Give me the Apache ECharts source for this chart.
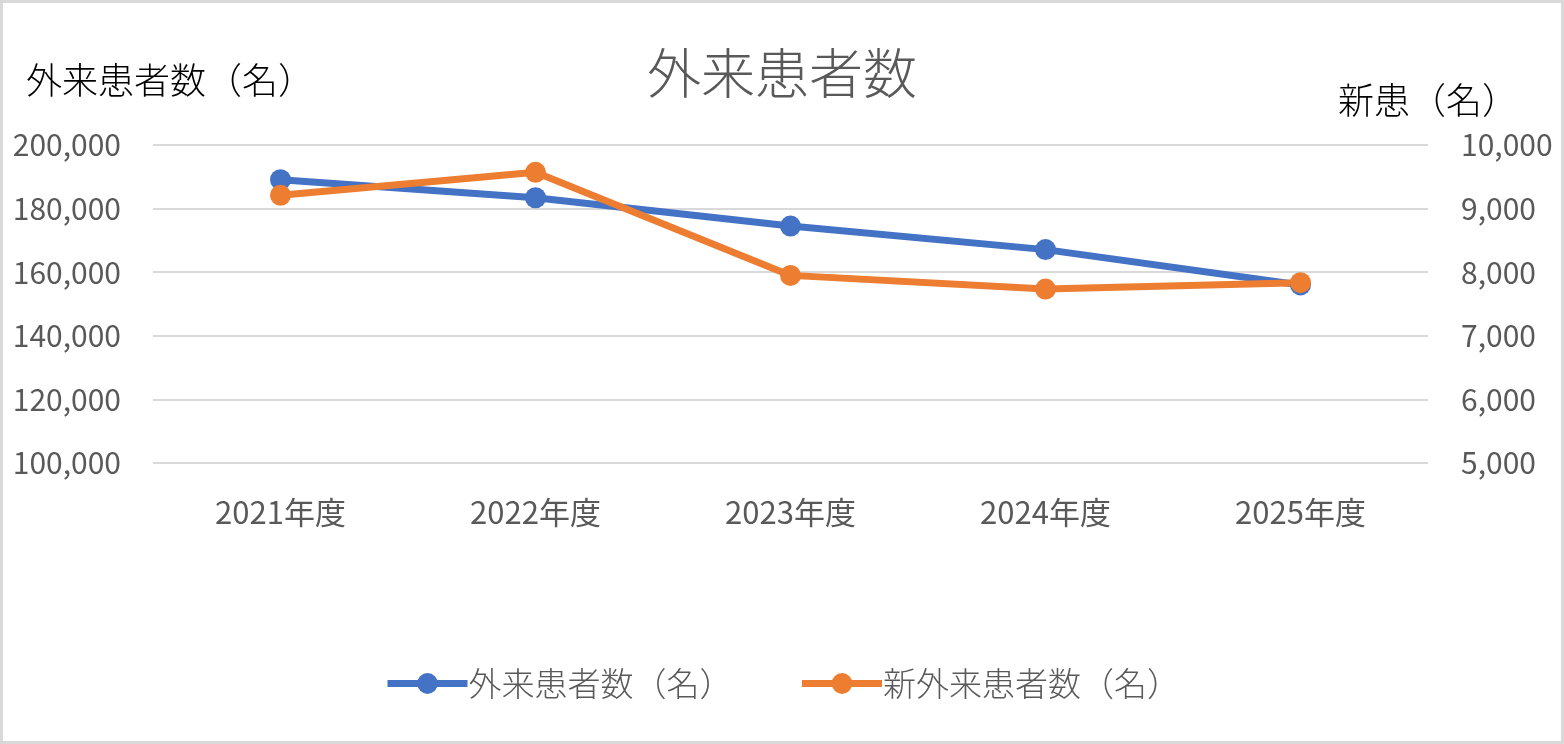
<!DOCTYPE html>
<html>
<head>
<meta charset="utf-8">
<script src="https://cdn.jsdelivr.net/npm/echarts@6/dist/echarts.min.js"></script>
<style>
  html, body { margin: 0; padding: 0; background: #fff; }
  #chart { width: 1564px; height: 744px; box-sizing: border-box; border: 3px solid #d9d9d9; }
</style>
</head>
<body>
<div id="chart"></div>
<script>
// 年度
var years = ['2021年度', '2022年度', '2023年度', '2024年度', '2025年度'];
// 外来患者数（左軸）
var outpatients = [189100, 183400, 174500, 167100, 156000];
// 新外来患者数（右軸）
var newOutpatients = [9210, 9570, 7950, 7735, 7835];

var FONT = '"Noto Sans CJK JP", "Noto Sans", sans-serif';
var GRAY = '#595959';

var chart = echarts.init(document.getElementById('chart'));

var option = {
  textStyle: { fontFamily: FONT },
  title: [
    {
      text: '外来患者数',
      left: 'center',
      top: 38,
      textStyle: { fontFamily: FONT, fontSize: 54, fontWeight: 300, color: GRAY }
    },
    {
      text: '外来患者数（名）',
      left: 18,
      top: 54,
      textStyle: { fontFamily: FONT, fontSize: 36, fontWeight: 300, color: '#000' }
    },
    {
      text: '新患（名）',
      right: 38,
      top: 74,
      textStyle: { fontFamily: FONT, fontSize: 36, fontWeight: 300, color: '#000' }
    }
  ],
  legend: {
    bottom: 36,
    left: 'center',
    itemWidth: 80,
    itemHeight: 26,
    itemGap: 66,
    lineStyle: { width: 7 },
    textStyle: { fontFamily: FONT, fontSize: 33, fontWeight: 300, color: GRAY, padding: [0, 0, 0, -4] },
    data: ['外来患者数（名）', '新外来患者数（名）']
  },
  grid: {
    left: 150,
    right: 133,
    top: 142,
    bottom: 278,
    containLabel: false
  },
  xAxis: {
    type: 'category',
    data: years,
    axisLine: { show: false },
    axisTick: { show: false },
    axisLabel: { fontFamily: FONT, fontSize: 31, color: GRAY, margin: 34 }
  },
  yAxis: [
    {
      type: 'value',
      min: 100000,
      max: 200000,
      interval: 20000,
      axisLine: { show: false },
      axisTick: { show: false },
      splitLine: { lineStyle: { color: '#d9d9d9', width: 2 } },
      axisLabel: {
        fontFamily: FONT, fontSize: 30, color: GRAY, margin: 32,
        formatter: function (v) { return v.toLocaleString('en-US'); }
      }
    },
    {
      type: 'value',
      min: 5000,
      max: 10000,
      interval: 1000,
      axisLine: { show: false },
      axisTick: { show: false },
      splitLine: { show: false },
      axisLabel: {
        fontFamily: FONT, fontSize: 30, color: GRAY, margin: 33,
        formatter: function (v) { return v.toLocaleString('en-US'); }
      }
    }
  ],
  series: [
    {
      name: '外来患者数（名）',
      type: 'line',
      yAxisIndex: 0,
      data: outpatients,
      symbol: 'circle',
      symbolSize: 21,
      itemStyle: { color: '#4472C4' },
      lineStyle: { color: '#4472C4', width: 7 }
    },
    {
      name: '新外来患者数（名）',
      type: 'line',
      yAxisIndex: 1,
      data: newOutpatients,
      symbol: 'circle',
      symbolSize: 21,
      itemStyle: { color: '#ED7D31' },
      lineStyle: { color: '#ED7D31', width: 7 }
    }
  ]
};

chart.setOption(option);
</script>
</body>
</html>
